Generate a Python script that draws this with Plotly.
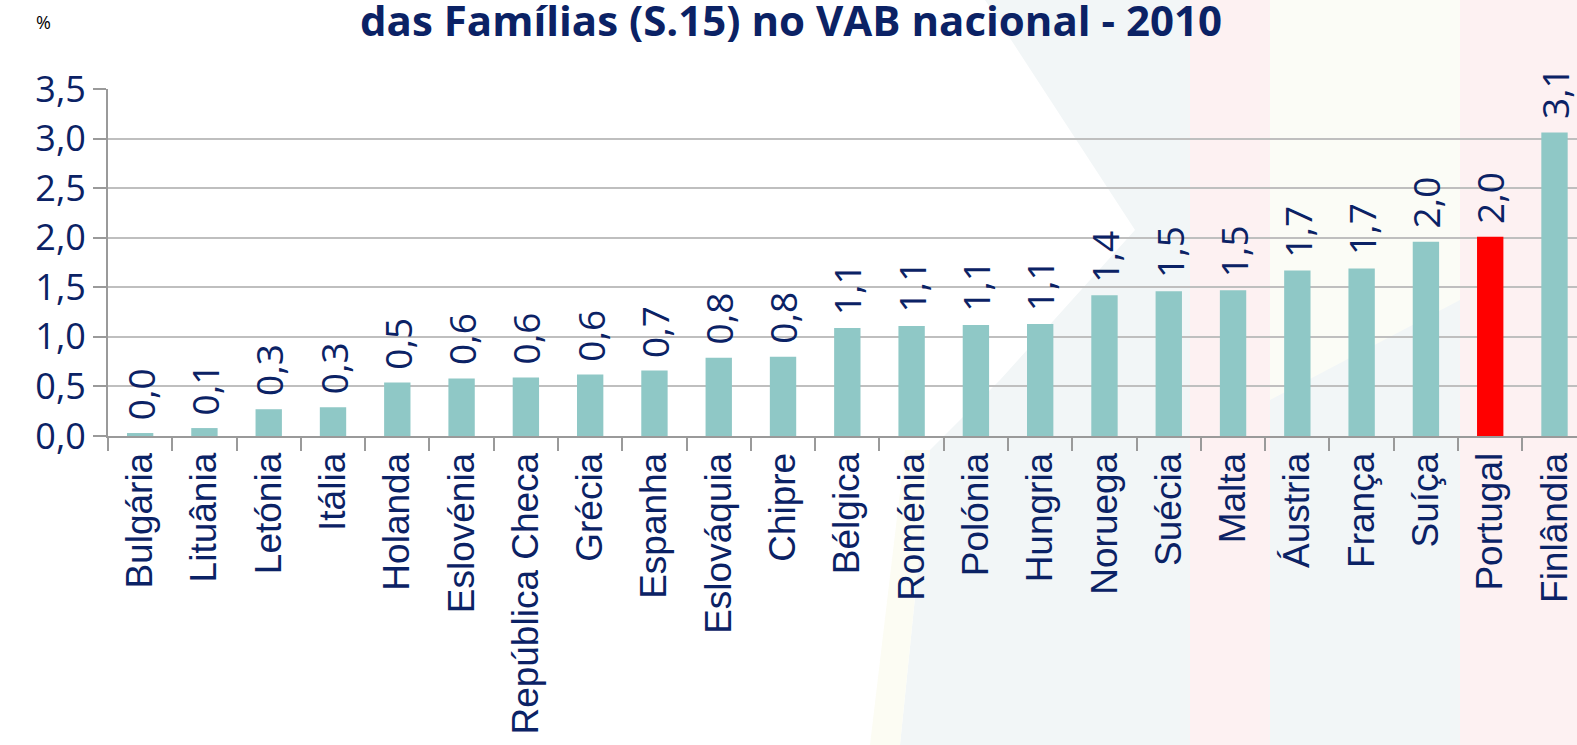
import plotly.graph_objects as go

countries = ["Bulgária", "Lituânia", "Letónia", "Itália", "Holanda", "Eslovénia",
             "República Checa", "Grécia", "Espanha", "Eslováquia", "Chipre", "Bélgica",
             "Roménia", "Polónia", "Hungria", "Noruega", "Suécia", "Malta", "Áustria",
             "França", "Suíça", "Portugal", "Finlândia"]
values = [0.03, 0.08, 0.27, 0.29, 0.54, 0.58, 0.59, 0.62, 0.66, 0.79, 0.80, 1.09,
          1.11, 1.12, 1.13, 1.42, 1.46, 1.47, 1.67, 1.69, 1.96, 2.01, 3.06]
highlight = "Portugal"
y_ticks = [0, 0.5, 1.0, 1.5, 2.0, 2.5, 3.0, 3.5]
title_text = "das Famílias (S.15) no VAB nacional - 2010"
unit_text = "%"

TEAL = "#8FC8C6"
RED = "#FF0000"
NAVY = "#0B2265"
GRID = "#BFBFBF"
AXIS = "#9A9A9A"

W, H = 1577, 745
L, T, B = 108, 89, 309
PW = W - L
PH = H - T - B


def xp(px):
    return (px - L) / PW


def yp(py):
    return (H - B - py) / PH


colors = [RED if c == highlight else TEAL for c in countries]
labels = [f"{v:.1f}".replace(".", ",") for v in values]

fig = go.Figure()
fig.add_trace(go.Bar(
    x=countries, y=values, marker=dict(color=colors, line=dict(width=0)),
    width=0.41, cliponaxis=False, hoverinfo="x+y",
))

annotations = []
for c, v, t in zip(countries, values, labels):
    annotations.append(dict(
        x=c, y=v, xref="x", yref="y", text=t, textangle=-90, showarrow=False,
        xanchor="center", yanchor="bottom", yshift=12, borderpad=0,
        font=dict(family="Open Sans", size=37, color=NAVY)))

shapes = []
# faint background watermark tints
shapes.append(dict(type="path", xref="paper", yref="paper", layer="below",
                   path=f"M {xp(985)} {yp(0)} L {xp(1577)} {yp(0)} L {xp(1577)} {yp(745)} "
                        f"L {xp(900)} {yp(745)} L {xp(930)} {yp(450)} L {xp(1000)} {yp(380)} "
                        f"L {xp(1135)} {yp(230)} Z",
                   fillcolor="#F2F6F7", line=dict(width=0)))
shapes.append(dict(type="rect", xref="paper", yref="paper", layer="below",
                   x0=xp(1190), x1=xp(1270), y0=yp(745), y1=yp(0),
                   fillcolor="#FDF1F2", line=dict(width=0)))
shapes.append(dict(type="rect", xref="paper", yref="paper", layer="below",
                   x0=xp(1460), x1=xp(1577), y0=yp(745), y1=yp(0),
                   fillcolor="#FDF1F2", line=dict(width=0)))
shapes.append(dict(type="path", xref="paper", yref="paper", layer="below",
                   path=f"M {xp(1270)} {yp(0)} L {xp(1460)} {yp(0)} L {xp(1460)} {yp(300)} "
                        f"L {xp(1270)} {yp(400)} Z",
                   fillcolor="#FBFCF6", line=dict(width=0)))
shapes.append(dict(type="path", xref="paper", yref="paper", layer="below",
                   path=f"M {xp(870)} {yp(745)} L {xp(900)} {yp(745)} L {xp(930)} {yp(450)} "
                        f"L {xp(905)} {yp(450)} Z",
                   fillcolor="#FCFCF3", line=dict(width=0)))

annotations += [
    dict(text=f"<b>{title_text}</b>", xref="paper", yref="paper",
         x=xp(791), y=yp(19), xanchor="center", yanchor="middle", showarrow=False,
         font=dict(family="Open Sans", size=42, color=NAVY)),
    dict(text=unit_text, xref="paper", yref="paper", x=xp(43), y=yp(22),
         xanchor="center", yanchor="middle", showarrow=False,
         font=dict(family="Open Sans", size=18, color="black")),
]

fig.update_layout(
    width=W, height=H,
    margin=dict(l=L, r=0, t=T, b=B),
    paper_bgcolor="white", plot_bgcolor="rgba(0,0,0,0)",
    separators=",.",
    showlegend=False,
    font=dict(family="Open Sans", color=NAVY),
    shapes=shapes,
    annotations=annotations,
    xaxis=dict(
        range=[-0.5, 22.35], showgrid=False, showline=True, linecolor=AXIS, linewidth=2,
        ticks="outside", tickson="boundaries", ticklen=13, tickcolor=AXIS, tickwidth=2,
        tickangle=-90, tickfont=dict(family="Liberation Sans", size=37, color=NAVY),
        fixedrange=True, automargin=False,
    ),
    yaxis=dict(
        range=[0, 3.5], tickvals=y_ticks, tickformat=".1f", showgrid=True,
        gridcolor=GRID, gridwidth=2, showline=True, linecolor=AXIS, linewidth=2,
        ticks="outside", ticklen=13, tickcolor=AXIS, tickwidth=2, zeroline=False,
        tickfont=dict(family="Open Sans", size=36, color=NAVY),
        fixedrange=True, automargin=False,
    ),
)

fig.write_html("out.html", config={"displayModeBar": False},
               post_script="document.body.style.margin='0px';document.body.style.overflow='hidden';")
